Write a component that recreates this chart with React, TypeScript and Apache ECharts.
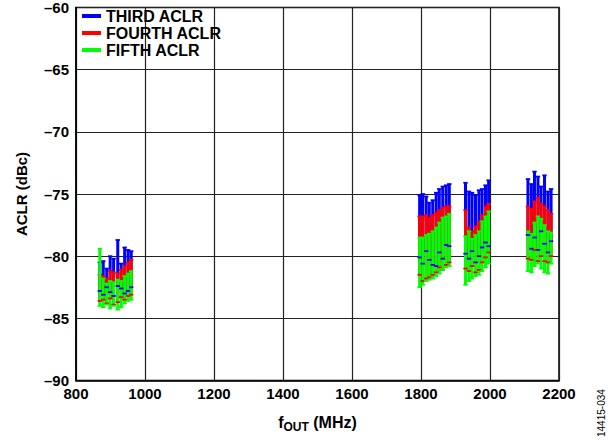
import React, { useEffect, useRef } from "react";
import * as echarts from "echarts";

// Frequencies (MHz) of each measured point
const freqs = [
  869, 879, 889, 899, 909, 921, 931, 941, 951, 960,
  1796, 1805, 1815, 1824, 1834, 1844, 1853, 1863, 1873, 1882,
  1929, 1939, 1948, 1958, 1968, 1977, 1987, 1996,
  2110, 2120, 2129, 2139, 2148, 2158, 2168, 2177,
];

const thirdMax = [
  -80.5, -80.4, -81.0, -80.0, -80.2, -78.7, -80.6, -79.3, -79.5, -79.6,
  -75.1, -75.0, -75.2, -75.7, -75.5, -74.9, -74.6, -74.4, -74.3, -74.2,
  -74.1, -74.8, -74.9, -75.1, -74.7, -74.6, -74.3, -73.9,
  -73.8, -74.2, -73.2, -73.6, -74.4, -73.5, -74.8, -74.6,
];
const thirdMin = [
  -82.8, -83.1, -82.5, -82.9, -83.2, -82.4, -82.6, -83.0, -82.8, -82.5,
  -80.1, -80.6, -79.6, -80.3, -80.7, -80.8, -79.7, -80.2, -79.1, -79.2,
  -79.8, -80.2, -79.6, -80.5, -80.0, -79.3, -78.9, -79.2,
  -78.3, -79.4, -78.5, -79.5, -78.0, -79.0, -79.7, -78.8,
];
const fourthMax = [
  -81.5, -81.6, -81.8, -81.2, -81.3, -81.4, -81.1, -80.8, -80.5, -80.3,
  -76.8, -76.8, -76.7, -76.9, -76.7, -76.5, -76.3, -76.1, -76.0, -76.0,
  -76.3, -77.7, -78.0, -77.6, -77.2, -76.7, -76.0, -75.8,
  -76.0, -76.2, -75.6, -75.3, -75.8, -76.0, -76.3, -76.6,
];
const fourthMin = [
  -83.6, -83.5, -83.8, -83.4, -83.9, -83.7, -83.3, -83.5, -83.2, -83.1,
  -81.5, -82.0, -81.8, -81.7, -81.5, -81.3, -80.9, -81.1, -80.7, -80.5,
  -81.0, -81.2, -80.8, -81.3, -81.1, -80.5, -80.1, -79.7,
  -80.2, -80.3, -79.5, -80.4, -80.0, -80.4, -80.5, -80.0,
];
const fifthMax = [
  -79.4, -81.8, -82.2, -82.0, -82.1, -81.9, -82.0, -81.6, -81.4, -81.2,
  -78.5, -78.5, -78.3, -78.2, -78.0, -77.7, -77.3, -76.9, -76.8, -76.6,
  -78.4, -78.0, -78.6, -78.3, -78.0, -77.2, -76.8, -76.4,
  -78.0, -78.2, -77.3, -76.8, -77.0, -77.5, -78.0, -78.1,
];
const fifthMin = [
  -84.0, -84.1, -83.9, -84.2, -84.0, -84.3, -84.1, -83.8, -83.6, -83.5,
  -82.5, -82.3, -82.0, -81.9, -81.8, -81.6, -81.4, -81.1, -80.9, -80.8,
  -82.3, -82.0, -81.8, -81.6, -81.5, -81.2, -80.9, -80.6,
  -81.2, -81.3, -80.8, -80.6, -81.0, -81.3, -81.4, -80.6,
];

const seriesNames = ["THIRD ACLR", "FOURTH ACLR", "FIFTH ACLR"];
const seriesColors = ["#0000ff", "#ff0000", "#00ff00"];
const yTicks = [-90, -85, -80, -75, -70, -65, -60];
const xTicks = [800, 1000, 1200, 1400, 1600, 1800, 2000, 2200];

const FONT = "'Liberation Sans', Arial, Helvetica, sans-serif";

export default function App() {
  const ref = useRef<HTMLDivElement>(null);

  useEffect(() => {
    if (!ref.current) return;
    const chart = echarts.init(ref.current, null, { renderer: "svg" });

    const BW = 3;
    const CW = 4.4;
    const CH = 1.8;

    const rangeData = (hi: number[], lo: number[]) =>
      freqs.map((f, i) => [f, hi[i], lo[i]]);

    const makeRender = (color: string) => (_params: any, api: any) => {
      const f = api.value(0);
      const top = api.coord([f, api.value(1)]);
      const bot = api.coord([f, api.value(2)]);
      return {
        type: "group",
        children: [
          {
            type: "rect",
            shape: { x: top[0] - BW / 2, y: top[1], width: BW, height: bot[1] - top[1] },
            style: { fill: color },
          },
          {
            type: "rect",
            shape: { x: top[0] - CW / 2, y: top[1] - CH / 2, width: CW, height: CH },
            style: { fill: color },
          },
        ],
      };
    };

    const hiArr = [thirdMax, fourthMax, fifthMax];
    const loArr = [thirdMin, fourthMin, fifthMin];

    const rangeSeries = seriesNames.map((name, k) => ({
      name,
      type: "custom",
      renderItem: makeRender(seriesColors[k]),
      itemStyle: { color: seriesColors[k] },
      encode: { x: 0, y: [1, 2] },
      data: rangeData(hiArr[k], loArr[k]),
      z: 2 + k,
    }));

    // bottom caps (min markers), drawn above all ranges
    const capData: number[][] = [];
    [thirdMin, fourthMin, fifthMin].forEach((arr, k) => {
      freqs.forEach((f, i) => capData.push([f, arr[i], k]));
    });
    const capSeries = {
      name: "caps",
      type: "custom",
      renderItem: (_p: any, api: any) => {
        const p = api.coord([api.value(0), api.value(1)]);
        const k = api.value(2);
        return {
          type: "rect",
          shape: { x: p[0] - CW / 2, y: p[1] - CH / 2, width: CW, height: CH },
          style: { fill: seriesColors[k] },
        };
      },
      encode: { x: 0, y: 1 },
      data: capData,
      z: 6,
    };

    chart.setOption({
      animation: false,
      backgroundColor: "#fff",
      textStyle: { fontFamily: FONT },
      grid: {
        left: 76,
        top: 5,
        width: 483,
        height: 375.5,
        show: true,
        borderColor: "#000",
        borderWidth: 1.5,
        containLabel: false,
      },
      legend: {
        data: seriesNames.map((n) => ({ name: n, icon: "rect" })),
        orient: "vertical",
        left: 82,
        top: 8,
        itemGap: 1,
        itemWidth: 19,
        itemHeight: 4,
        padding: 0,
        textStyle: {
          fontFamily: FONT,
          fontWeight: "bold",
          fontSize: 16,
          color: "#000",
          padding: [0, 0, 0, 0],
        },
      },
      xAxis: {
        type: "value",
        min: xTicks[0],
        max: xTicks[xTicks.length - 1],
        interval: 200,
        axisLine: { show: true, lineStyle: { color: "#000", width: 1.5 } },
        axisTick: { show: false },
        splitLine: { show: true, lineStyle: { color: "#222", width: 1.2 } },
        axisLabel: {
          fontFamily: FONT,
          fontWeight: "bold",
          fontSize: 15,
          color: "#000",
          margin: 5,
          formatter: (v: number) => String(v),
        },
        name: "{f|f}{sub|OUT}{f| (MHz)}",
        nameLocation: "middle",
        nameGap: 31,
        nameTextStyle: {
          rich: {
            f: { fontFamily: FONT, fontWeight: "bold", fontSize: 16, color: "#000" },
            sub: {
              fontFamily: FONT,
              fontWeight: "bold",
              fontSize: 12,
              color: "#000",
              padding: [9, 0, 0, 0],
            },
          },
        },
      },
      yAxis: {
        type: "value",
        min: yTicks[0],
        max: yTicks[yTicks.length - 1],
        interval: 5,
        axisLine: { show: true, lineStyle: { color: "#000", width: 1.5 } },
        axisTick: { show: false },
        splitLine: { show: true, lineStyle: { color: "#222", width: 1.2 } },
        axisLabel: {
          fontFamily: FONT,
          fontWeight: "bold",
          fontSize: 15,
          color: "#000",
          margin: 7,
          formatter: (v: number) => String(v).replace("-", "\u2013"),
        },
        name: "ACLR (dBc)",
        nameLocation: "middle",
        nameGap: 47,
        nameTextStyle: {
          fontFamily: FONT,
          fontWeight: "bold",
          fontSize: 15,
          color: "#000",
        },
      },
      graphic: [
        {
          type: "text",
          x: 596,
          y: 437,
          rotation: Math.PI / 2,
          style: {
            text: "14415-034",
            fontFamily: FONT,
            fontSize: 10,
            fill: "#000",
          },
        },
      ],
      series: [...rangeSeries, capSeries],
    });

    return () => chart.dispose();
  }, []);

  return (
    <div
      ref={ref}
      style={{ position: "fixed", left: 0, top: 0, width: 614, height: 441 }}
    />
  );
}
